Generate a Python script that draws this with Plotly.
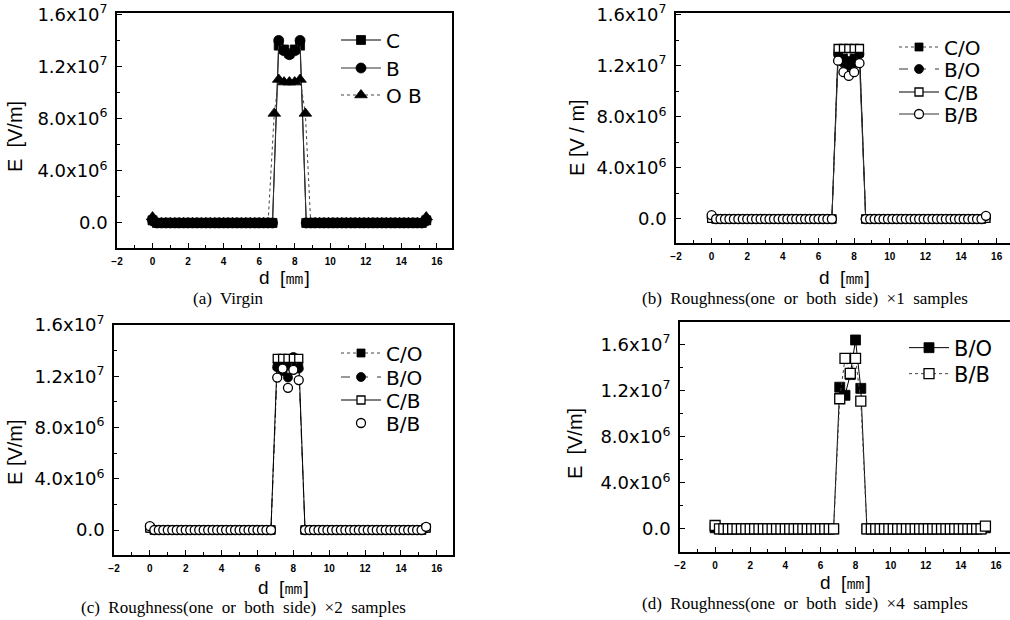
import plotly.graph_objects as go

W, H = 1010, 620

# ---------------- data ----------------
X_LEFT = [0.0, 0.25, 0.5, 0.75, 1.0, 1.25, 1.5, 1.75, 2.0, 2.25, 2.5, 2.75, 3.0, 3.25,
          3.5, 3.75, 4.0, 4.25, 4.5, 4.75, 5.0, 5.25, 5.5, 5.75, 6.0, 6.25, 6.5, 6.75]
X_RIGHT = [8.65, 8.9, 9.15, 9.4, 9.65, 9.9, 10.15, 10.4, 10.65, 10.9, 11.15, 11.4, 11.65, 11.9,
           12.15, 12.4, 12.65, 12.9, 13.15, 13.4, 13.65, 13.9, 14.15, 14.4, 14.65, 14.9, 15.15, 15.4]
BASE_LEFT = [0.0, 0.0, 0.0, 0.0, 0.0, 0.0, 0.0, 0.0, 0.0, 0.0, 0.0, 0.0, 0.0, 0.0,
             0.0, 0.0, 0.0, 0.0, 0.0, 0.0, 0.0, 0.0, 0.0, 0.0, 0.0, 0.0, 0.0, 0.0]
BASE_RIGHT = [0.0, 0.0, 0.0, 0.0, 0.0, 0.0, 0.0, 0.0, 0.0, 0.0, 0.0, 0.0, 0.0, 0.0,
              0.0, 0.0, 0.0, 0.0, 0.0, 0.0, 0.0, 0.0, 0.0, 0.0, 0.0, 0.0, 0.0, 0.0]
PEAK_X = [7.1, 7.4, 7.7, 8.0, 8.3]

# (a) Virgin
A_C_PEAK = [1.36e7, 1.33e7, 1.30e7, 1.33e7, 1.36e7]
A_C_ENDS = [2.0e5, 2.0e5]
A_B_PEAK = [1.40e7, 1.32e7, 1.29e7, 1.32e7, 1.40e7]
A_B_ENDS = [2.0e5, 2.0e5]
A_OB_X = [6.85, 7.1, 7.4, 7.7, 8.0, 8.3, 8.6]
A_OB_PEAK = [8.4e6, 1.10e7, 1.08e7, 1.08e7, 1.08e7, 1.10e7, 8.4e6]
A_OB_ENDS = [4.5e5, 4.5e5]

# (b) x1
B_CO_PEAK = [1.30e7, 1.26e7, 1.24e7, 1.26e7, 1.30e7]
B_BO_PEAK = [1.29e7, 1.22e7, 1.20e7, 1.22e7, 1.29e7]
B_CB_PEAK = [1.335e7, 1.335e7, 1.335e7, 1.335e7, 1.335e7]
B_BB_PEAK = [1.24e7, 1.15e7, 1.12e7, 1.15e7, 1.22e7]
B_CO_ENDS = [0.5e5, 0.5e5]
B_BO_ENDS = [1.0e5, 1.0e5]
B_CB_ENDS = [0.5e5, 0.5e5]
B_BB_ENDS = [3.0e5, 2.5e5]

# (c) x2
C_CO_PEAK = [1.28e7, 1.30e7, 1.28e7, 1.30e7, 1.28e7]
C_BO_PEAK = [1.27e7, 1.24e7, 1.19e7, 1.35e7, 1.26e7]
C_CB_PEAK = [1.34e7, 1.34e7, 1.34e7, 1.34e7, 1.34e7]
C_BB_PEAK = [1.19e7, 1.26e7, 1.11e7, 1.25e7, 1.17e7]
C_CO_ENDS = [1.5e5, 1.5e5]
C_BO_ENDS = [1.5e5, 1.5e5]
C_CB_ENDS = [1.5e5, 1.5e5]
C_BB_ENDS = [3.0e5, 2.5e5]

# (d) x4
D_BO_PEAK = [1.23e7, 1.16e7, 1.34e7, 1.64e7, 1.22e7]
D_BB_PEAK = [1.13e7, 1.48e7, 1.35e7, 1.48e7, 1.11e7]
D_BO_ENDS = [1.0e5, 1.0e5]
D_BB_ENDS = [3.0e5, 2.5e5]

XTICKS = [-2, 0, 2, 4, 6, 8, 10, 12, 14, 16]
XMINOR = [-1, 1, 3, 5, 7, 9, 11, 13, 15, 17]
YTICKS = [0, 4e6, 8e6, 1.2e7, 1.6e7]
YTICK_TEXT = ['0.0', '4.0x10<sup>6</sup>', '8.0x10<sup>6</sup>',
              '1.2x10<sup>7</sup>', '1.6x10<sup>7</sup>']
YMINOR = [-2e6, 2e6, 6e6, 1e7, 1.4e7, 1.8e7]

CAPTIONS = ['(a)  Virgin',
            '(b)  Roughness(one  or  both  side)  \u00d71  samples',
            '(c)  Roughness(one  or  both  side)  \u00d72  samples',
            '(d)  Roughness(one  or  both  side)  \u00d74  samples']

# ---------------- helpers ----------------
def full_series(peak, ends):
    x = X_LEFT + PEAK_X + X_RIGHT
    y = [ends[0]] + BASE_LEFT[1:] + peak + BASE_RIGHT[:-1] + [ends[1]]
    return x, y


def marker(sym, filled, size):
    if filled:
        return dict(symbol=sym, size=size, color='black', line=dict(color='black', width=0.8))
    return dict(symbol=sym, size=size, color='white', line=dict(color='black', width=1.3))


def px_x(p):
    return p / W


def px_y(p):
    return 1 - p / H


fig = go.Figure()
legends = {}
counter = [0]


def add(x, y, name, sym, filled, size, dash, n, leg_pos, mode='lines+markers', lc='black',
        fs=20):
    counter[0] += 1
    key = 'legend' if counter[0] == 1 else 'legend%d' % counter[0]
    legends[key] = dict(x=px_x(leg_pos[0]), y=px_y(leg_pos[1]), xanchor='left', yanchor='middle',
                        bgcolor='rgba(0,0,0,0)', borderwidth=0, itemwidth=40,
                        font=dict(family='DejaVu Sans', size=fs, color='black'))
    fig.add_trace(go.Scatter(
        x=x, y=y, name=name, mode=mode,
        line=dict(color=lc, width=1.0, dash=dash),
        marker=marker(sym, filled, size),
        xaxis='x' + ('' if n == 1 else str(n)),
        yaxis='y' + ('' if n == 1 else str(n)),
        legend=key,
    ))

# (a)
x, y = full_series(A_C_PEAK, A_C_ENDS)
add(x, y, 'C', 'square', True, 9, 'solid', 1, (336, 40))
x, y = full_series(A_B_PEAK, A_B_ENDS)
add(x, y, 'B', 'circle', True, 10, 'solid', 1, (336, 68), lc='#333')
x = X_LEFT[:-1] + A_OB_X + X_RIGHT[1:]
y = [A_OB_ENDS[0]] + BASE_LEFT[1:-1] + A_OB_PEAK + BASE_RIGHT[1:-1] + [A_OB_ENDS[1]]
add(x, y, 'O B', 'triangle-up', True, 11, 'dot', 1, (336, 95), lc='#444')

# (b)
x, y = full_series(B_CO_PEAK, B_CO_ENDS)
add(x, y, 'C/O', 'square', True, 8, 'dot', 2, (894, 47), lc='#444')
x, y = full_series(B_BO_PEAK, B_BO_ENDS)
add(x, y, 'B/O', 'circle', True, 9, 'dash', 2, (894, 69), lc='#333')
x, y = full_series(B_CB_PEAK, B_CB_ENDS)
add(x, y, 'C/B', 'square', False, 8, 'solid', 2, (894, 92))
x, y = full_series(B_BB_PEAK, B_BB_ENDS)
add(x, y, 'B/B', 'circle', False, 9, 'solid', 2, (894, 114), lc='#333')

# (c)
x, y = full_series(C_CO_PEAK, C_CO_ENDS)
add(x, y, 'C/O', 'square', True, 8, 'dot', 3, (336, 353), lc='#444')
x, y = full_series(C_BO_PEAK, C_BO_ENDS)
add(x, y, 'B/O', 'circle', True, 9, 'dash', 3, (336, 377), lc='#333')
x, y = full_series(C_CB_PEAK, C_CB_ENDS)
add(x, y, 'C/B', 'square', False, 8, 'solid', 3, (336, 400))
x, y = full_series(C_BB_PEAK, C_BB_ENDS)
add(x, y, 'B/B', 'circle', False, 9, 'solid', 3, (336, 423), mode='markers')

# (d)
x, y = full_series(D_BO_PEAK, D_BO_ENDS)
add(x, y, 'B/O', 'square', True, 10, 'solid', 4, (904, 348), fs=21)
x, y = full_series(D_BB_PEAK, D_BB_ENDS)
add(x, y, 'B/B', 'square', False, 10, 'dot', 4, (904, 374), lc='#444', fs=21)

# ---------------- layout ----------------
def xaxis(l, r, rng, anchor, mirror=True):
    return dict(domain=[px_x(l), min(1.0, px_x(r))], range=rng, anchor=anchor,
                tickmode='array', tickvals=XTICKS, ticks='inside', ticklen=5, tickwidth=1.2,
                tickcolor='black',
                minor=dict(tickvals=XMINOR, ticks='inside', ticklen=3, tickwidth=1, tickcolor='black'),
                showline=True, linecolor='black', linewidth=1.6, mirror=mirror,
                showgrid=False, zeroline=False, ticklabelstandoff=3,
                tickfont=dict(family='Liberation Sans', size=10, color='black', weight='bold'))


def yaxis(t, b, rng, anchor, mirror=True):
    return dict(domain=[px_y(b), px_y(t)], range=rng, anchor=anchor,
                tickmode='array', tickvals=YTICKS, ticktext=YTICK_TEXT,
                ticks='inside', ticklen=5, tickwidth=1.2, tickcolor='black',
                minor=dict(tickvals=YMINOR, ticks='inside', ticklen=3, tickwidth=1, tickcolor='black'),
                showline=True, linecolor='black', linewidth=1.6, mirror=mirror,
                showgrid=False, zeroline=False, ticklabelstandoff=4,
                tickfont=dict(family='DejaVu Sans', size=18, color='black'))


fig.update_layout(
    width=W, height=H, margin=dict(l=0, r=0, t=0, b=0, autoexpand=False),
    paper_bgcolor='white', plot_bgcolor='white', showlegend=True,
    xaxis=xaxis(117, 452, [-2, 16.85], 'y'),
    yaxis=yaxis(13, 248, [-1.92e6, 1.61e7], 'x'),
    xaxis2=xaxis(676, 1010, [-2, 16.75], 'y2'),
    yaxis2=yaxis(13, 243, [-1.88e6, 1.613e7], 'x2', mirror=False),
    xaxis3=xaxis(114, 453, [-2, 16.9], 'y3'),
    yaxis3=yaxis(325, 555, [-1.95e6, 1.6e7], 'x3'),
    xaxis4=xaxis(680, 1010, [-2, 16.8], 'y4'),
    yaxis4=yaxis(322, 552, [-2.0e6, 1.796e7], 'x4', mirror=False),
    **legends,
)

annots = []
# y titles
for cx, cy, txt in [(15, 137, 'E  [V/m]'), (577, 138, 'E [V / m]'),
                    (15, 452, 'E [V/m]'), (575, 444, 'E  [V/m]')]:
    annots.append(dict(x=px_x(cx), y=px_y(cy), xref='paper', yref='paper', text=txt,
                       textangle=-90, showarrow=False, xanchor='center', yanchor='middle',
                       font=dict(family='Liberation Sans', size=20, color='black')))
# x titles
for cx, cy in [(284, 277), (844, 277), (283, 587), (845, 582)]:
    annots.append(dict(x=px_x(cx), y=px_y(cy), xref='paper', yref='paper', text='d  [\u339c]',
                       showarrow=False, xanchor='center', yanchor='middle',
                       font=dict(family='Liberation Sans', size=19, color='black')))
# captions
for (cx, cy), txt in zip([(228, 298), (805, 298), (243, 607), (805, 603)], CAPTIONS):
    annots.append(dict(x=px_x(cx), y=px_y(cy), xref='paper', yref='paper', text=txt,
                       showarrow=False, xanchor='center', yanchor='middle',
                       font=dict(family='Liberation Serif', size=17, color='black')))
fig.update_layout(annotations=annots)

fig.write_html('out.html', config={'displayModeBar': False},
               post_script="document.body.style.margin='0';document.body.style.overflow='hidden';")
